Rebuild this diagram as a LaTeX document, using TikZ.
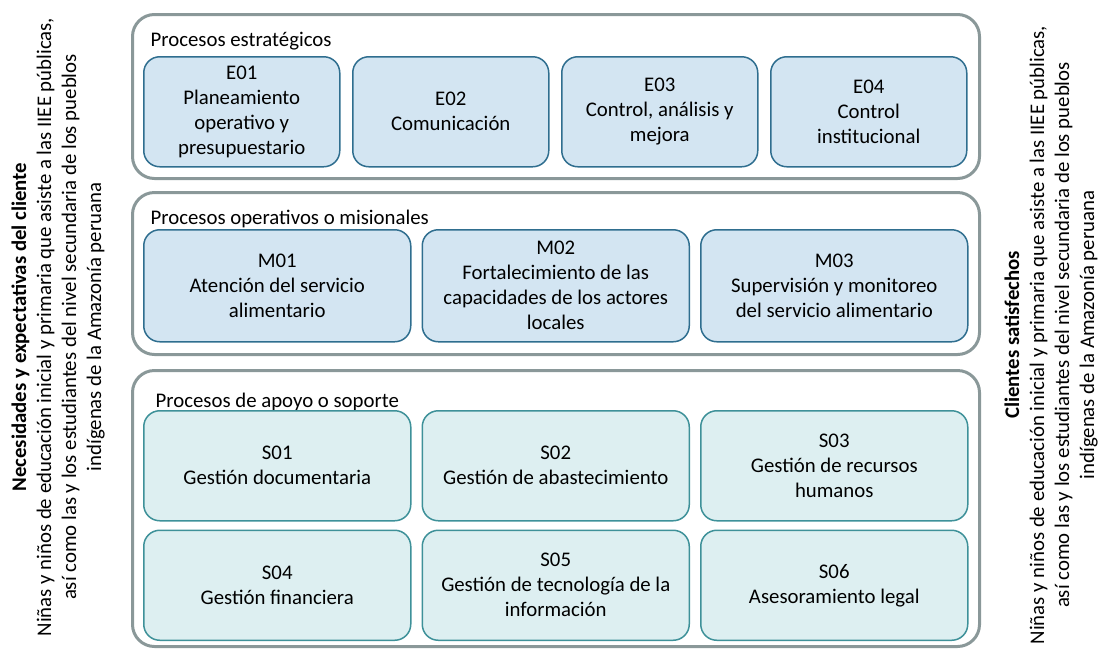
\documentclass[tikz,border=0pt]{standalone}
\usepackage{fontspec}
\setmainfont{Carlito}
\usepackage{xcolor}
\usetikzlibrary{positioning}

\definecolor{gris}{HTML}{8A9899}
\definecolor{azulfondo}{HTML}{D3E5F2}
\definecolor{azulborde}{HTML}{2F6E8F}
\definecolor{verdefondo}{HTML}{DDEFF1}
\definecolor{verdeborde}{HTML}{3E9199}

\begin{document}
\begin{tikzpicture}[
            x = 1pt, y = -1pt, % pixel-like units
            font = \fontsize{20.8}{25}\selectfont,
            node distance = 13pt, % gap between boxes
            semithick
        ]

        \tikzstyle{grupo}=[
            draw = gris,
            line width = 3pt,
            rounded corners = 22pt,
            outer sep = 0pt,
            anchor = north west
        ]
        \tikzstyle{proceso}=[
            draw = azulborde,
            fill = azulfondo,
            line width = 1.5pt,
            rounded corners = 16pt,
            align = center,
            inner sep = 2pt,
            outer sep = 0pt
        ]
        \tikzstyle{soporte}=[
            proceso,
            draw = verdeborde,
            fill = verdefondo
        ]
        \tikzstyle{lado}=[
            rotate = 90,
            align = center,
            inner sep = 0pt
        ]

        \useasboundingbox (0,0) rectangle (1099,649);

        % side texts
        \node[lado] (entrada) at (58,327) {{\bfseries Necesidades y expectativas del cliente}\\Niñas y niños de educación inicial y primaria que asiste a las IIEE públicas,\\así como las y los estudiantes del nivel secundaria de los pueblos\\indígenas de la Amazonía peruana};
        \node[lado] (salida) at (1051,335) {{\bfseries Clientes satisfechos}\\Niñas y niños de educación inicial y primaria que asiste a las IIEE públicas,\\así como las y los estudiantes del nivel secundaria de los pueblos\\indígenas de la Amazonía peruana};

        % group frames
        \node[grupo, minimum width=847pt, minimum height=164pt] (gE) at (132.5,14.5) {};
        \node[grupo, minimum width=847pt, minimum height=162pt] (gM) at (132.5,192.5) {};
        \node[grupo, minimum width=847pt, minimum height=276pt] (gS) at (132.5,370.5) {};

        \node[anchor=base west] (tE) at (147,46) {Procesos estratégicos};
        \node[anchor=base west] (tM) at (147,224) {Procesos operativos o misionales};
        \node[anchor=base west] (tS) at (152,407) {Procesos de apoyo o soporte};

        % strategic
        \node[proceso, minimum width=196pt, minimum height=110pt, anchor=north west] (E01) at (143.75,56.75) {E01\\Planeamiento\\operativo y\\presupuestario};
        \node[proceso, minimum width=196pt, minimum height=110pt] (E02) [right=of E01] {E02\\Comunicación};
        \node[proceso, minimum width=196pt, minimum height=110pt] (E03) [right=of E02] {E03\\Control, análisis y\\mejora};
        \node[proceso, minimum width=196pt, minimum height=110pt] (E04) [right=of E03] {E04\\Control\\institucional};

        % operative
        \node[proceso, minimum width=267pt, minimum height=112pt, anchor=north west] (M01) at (143.75,229.75) {M01\\Atención del servicio\\alimentario};
        \node[proceso, minimum width=267pt, minimum height=112pt] (M02) [right=11.5pt of M01] {M02\\Fortalecimiento de las\\capacidades de los actores\\locales};
        \node[proceso, minimum width=267pt, minimum height=112pt] (M03) [right=11.5pt of M02] {M03\\Supervisión y monitoreo\\del servicio alimentario};

        % support
        \node[soporte, minimum width=267pt, minimum height=110pt, anchor=north west] (S01) at (143.75,410.75) {S01\\Gestión documentaria};
        \node[soporte, minimum width=267pt, minimum height=110pt] (S02) [right=11.5pt of S01] {S02\\Gestión de abastecimiento};
        \node[soporte, minimum width=267pt, minimum height=110pt] (S03) [right=11.5pt of S02] {S03\\Gestión de recursos\\humanos};
        \node[soporte, minimum width=267pt, minimum height=110pt] (S04) [below=9.5pt of S01] {S04\\Gestión financiera};
        \node[soporte, minimum width=267pt, minimum height=110pt] (S05) [right=11.5pt of S04] {S05\\Gestión de tecnología de la\\información};
        \node[soporte, minimum width=267pt, minimum height=110pt] (S06) [right=11.5pt of S05] {S06\\Asesoramiento legal};
    \end{tikzpicture}
\end{document}
